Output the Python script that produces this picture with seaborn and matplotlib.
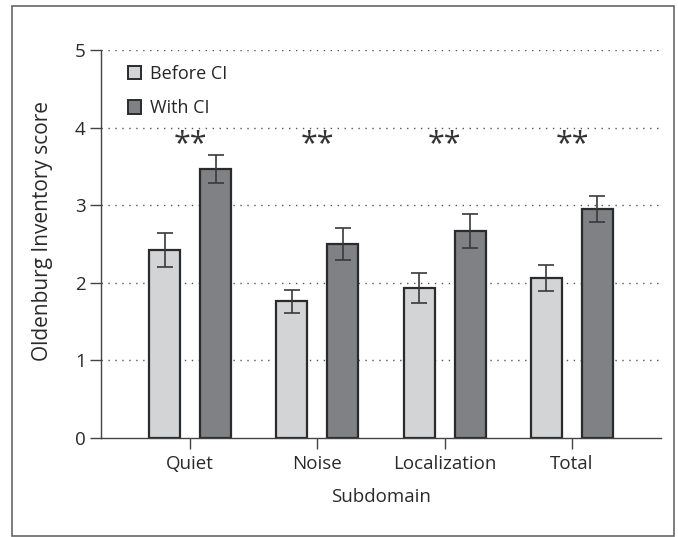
import matplotlib
matplotlib.use("Agg")
import matplotlib.pyplot as plt
import seaborn as sns
import pandas as pd
from matplotlib.patches import Rectangle

categories = ["Quiet", "Noise", "Localization", "Total"]
groups = ["Before CI", "With CI"]
before_vals = [2.42, 1.76, 1.93, 2.06]
with_vals = [3.47, 2.50, 2.67, 2.95]
before_err = [0.22, 0.15, 0.19, 0.165]
with_err = [0.18, 0.20, 0.22, 0.17]
sig_labels = ["**", "**", "**", "**"]
yticks = [0, 1, 2, 3, 4, 5]

sns.set_theme(style="white")
plt.rcParams['font.family'] = ['Open Sans', 'DejaVu Sans']

df = pd.DataFrame({
    "Subdomain": categories * 2,
    "group": [groups[0]] * 4 + [groups[1]] * 4,
    "score": before_vals + with_vals,
    "err": before_err + with_err,
})

fig = plt.figure(figsize=(6.78, 5.37), dpi=100)
ax = fig.add_axes([0.149, 0.1844, 0.826, 0.7225])

palette = {groups[0]: "#d3d4d6", groups[1]: "#808184"}
sns.barplot(data=df, x="Subdomain", y="score", hue="group", order=categories,
            hue_order=groups, palette=palette, width=0.8, gap=0.39,
            errorbar=None, edgecolor="#2b2b2b", linewidth=1.6, ax=ax,
            saturation=1)

# error bars from bar patches
for container, g in zip(ax.containers, groups):
    sub = df[df.group == g].set_index("Subdomain").loc[categories]
    xs = [p.get_x() + p.get_width() / 2 for p in container.patches]
    ax.errorbar(xs, sub["score"].values, yerr=sub["err"].values, fmt="none",
                ecolor="#3a3a3a", elinewidth=1.2, capsize=5.5, capthick=1.2, zorder=5)

for i, s in enumerate(sig_labels):
    ax.text(i, 3.79, s, ha="center", va="center", fontsize=22, color="#333333")

ax.set_ylim(0, 5)
ax.set_xlim(-0.7, 3.7)
ax.set_yticks(yticks)
ax.set_yticklabels([str(t) for t in yticks])
for y in yticks[1:]:
    ax.axhline(y, color="#555555", linestyle=(0, (1, 4)), linewidth=1.0, zorder=0)

for sp in ["top", "right"]:
    ax.spines[sp].set_visible(False)
ax.spines["left"].set_color("#444444")
ax.spines["bottom"].set_color("#444444")
ax.spines["left"].set_linewidth(1.0)
ax.spines["bottom"].set_linewidth(1.0)
ax.tick_params(axis="y", which="major", left=True, length=8, width=1.0,
               color="#444444", labelsize=13.5, labelcolor="#2a2a2a", pad=3)
ax.tick_params(axis="x", which="major", bottom=True, length=8, width=1.0,
               color="#444444", labelsize=13.5, labelcolor="#2a2a2a", pad=4)
ax.set_xlabel("Subdomain", fontsize=13.5, color="#2a2a2a", labelpad=11)
ax.set_ylabel("Oldenburg Inventory score", fontsize=15, color="#2a2a2a")
ax.yaxis.set_label_coords(-0.086, 0.534)

handles = [Rectangle((0, 0), 1, 1, facecolor=palette[g], edgecolor="#2b2b2b", linewidth=1.4)
           for g in groups]
ax.legend(handles, groups, loc="upper left", bbox_to_anchor=(0.035, 0.98),
          frameon=False, fontsize=13, handlelength=0.75, handleheight=0.75,
          handletextpad=0.5, labelspacing=0.9, borderaxespad=0)

fig.patches.append(Rectangle((12 / 678, 1 / 537), 662 / 678, 530 / 537,
                             transform=fig.transFigure, fill=False,
                             edgecolor="#666666", linewidth=1.2))

fig.savefig("out.png", dpi=100)
